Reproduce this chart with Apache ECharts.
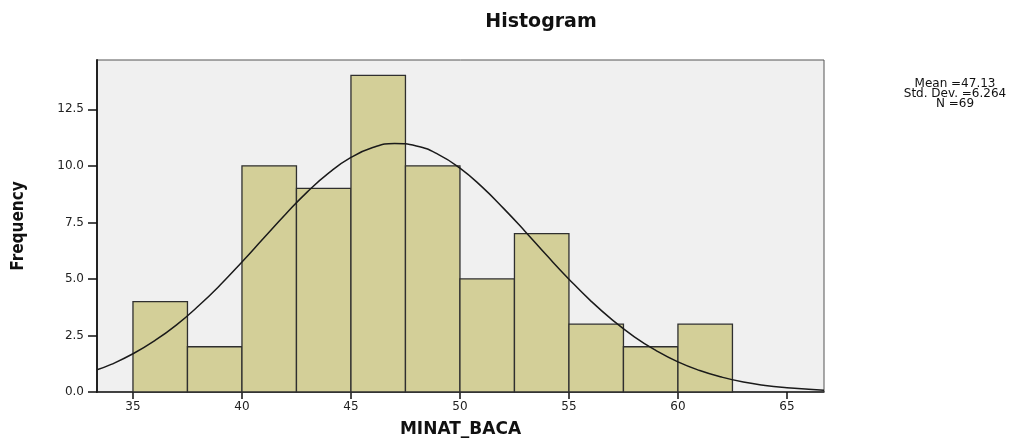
<!DOCTYPE html>
<html>
<head>
<meta charset="utf-8">
<title>Histogram</title>
<script src="https://cdn.jsdelivr.net/npm/echarts@6/dist/echarts.min.js"></script>
<style>
    html, body { margin: 0; padding: 0; background: #fff; }
    #histChart { width: 1031px; height: 443px; }
</style>
</head>
<body>
<div id="histChart"></div>
<script>
// bins of MINAT_BACA (edges) and how many cases fall in each
var binEdges = [35, 37.5, 40, 42.5, 45, 47.5, 50, 52.5, 55, 57.5, 60, 62.5];
var binCounts = [4, 2, 10, 9, 14, 10, 5, 7, 3, 2, 3];

// fitted normal curve
var curveX = [33.35, 34, 35, 36, 37, 38, 39, 40, 41, 42, 43, 44, 45, 46, 47, 48, 49, 50,
    51, 52, 53, 54, 55, 56, 57, 58, 59, 60, 61, 62, 63, 64, 65, 66, 66.7];
var curveY = [0.98, 1.22, 1.69, 2.27, 2.97, 3.80, 4.73, 5.75, 6.81, 7.86, 8.85, 9.70, 10.37, 10.81, 10.99, 10.88, 10.51, 9.90,
    9.08, 8.12, 7.09, 6.02, 4.99, 4.03, 3.18, 2.44, 1.83, 1.33, 0.95, 0.66, 0.44, 0.29, 0.19, 0.12, 0.08];

var xTicks = [35, 40, 45, 50, 55, 60, 65];
var yTicks = [0, 2.5, 5, 7.5, 10, 12.5];

var statLines = ['Mean =47.13', 'Std. Dev. =6.264', 'N =69'];

var histChart = (function (w) {

    var chart = echarts.init(document.getElementById('histChart'));
    var txt = '#222';

    function $each(arr, fn) {
        for (var i = 0; i < arr.length; i++) fn(i, arr[i]);
    }

    var bars = [];
    $each(binCounts, function (i, v) {
        bars.push([binEdges[i], binEdges[i + 1], v]);
    });

    var curve = [];
    $each(curveX, function (i, v) {
        curve.push([v, curveY[i]]);
    });

    // stats box, one text per line so each can be centred
    var stats = [];
    $each(statLines, function (i, v) {
        stats.push({
            type: 'text',
            x: 955,
            y: 78 + i * 10,
            style: {
                text: v,
                fontFamily: 'DejaVu Sans',
                fontSize: 12,
                align: 'center',
                fill: '#111'
            }
        });
    });

    var option = {
        animation: false,
        backgroundColor: '#fff',
        title: {
            text: 'Histogram',
            left: 536,
            top: 8,
            textAlign: 'center',
            textStyle: {
                fontFamily: 'DejaVu Sans',
                fontWeight: 'bold',
                fontSize: 19,
                color: '#111'
            }
        },
        grid: {
            left: 97,
            right: 207,
            top: 60,
            bottom: 46,
            show: true,
            backgroundColor: '#F0F0F0',
            borderColor: '#555',
            borderWidth: 1
        },
        xAxis: {
            type: 'value',
            min: 33.35,
            max: 66.7,
            name: 'MINAT_BACA',
            nameLocation: 'middle',
            nameGap: 29,
            nameTextStyle: {
                fontFamily: 'DejaVu Sans',
                fontWeight: 'bold',
                fontSize: 17,
                color: '#111'
            },
            axisLine: { show: true, onZero: false, lineStyle: { color: '#222', width: 1.5 } },
            axisTick: { show: true, length: 7, customValues: xTicks, lineStyle: { color: '#111', width: 1.5 } },
            axisLabel: {
                customValues: xTicks,
                margin: 9,
                fontFamily: 'DejaVu Sans',
                fontSize: 12,
                color: txt
            },
            splitLine: { show: false }
        },
        yAxis: {
            type: 'value',
            min: 0,
            max: 14.68,
            name: 'Frequency',
            nameLocation: 'middle',
            nameGap: 70,
            nameTextStyle: {
                fontFamily: '"Liberation Sans Narrow", "DejaVu Sans Condensed", "Liberation Sans"',
                fontWeight: 'bold',
                fontSize: 17,
                color: '#111'
            },
            axisLine: { show: true, lineStyle: { color: '#222', width: 2 } },
            axisTick: { show: true, length: 9, customValues: yTicks, lineStyle: { color: '#111', width: 1.5 } },
            axisLabel: {
                customValues: yTicks,
                margin: 13,
                fontFamily: 'DejaVu Sans',
                fontSize: 12,
                color: txt,
                formatter: function (v) { return v.toFixed(1); }
            },
            splitLine: { show: false }
        },
        graphic: stats,
        series: [{
            name: 'Frequency',
            type: 'custom',
            encode: { x: [0, 1], y: 2 },
            data: bars,
            renderItem: function (params, api) {
                var topLeft = api.coord([api.value(0), api.value(2)]);
                var bottomRight = api.coord([api.value(1), 0]);
                return {
                    type: 'rect',
                    shape: {
                        x: topLeft[0],
                        y: topLeft[1],
                        width: bottomRight[0] - topLeft[0],
                        height: bottomRight[1] - topLeft[1]
                    },
                    style: {
                        fill: '#D3CF98',
                        stroke: '#2f2f2f',
                        lineWidth: 1.3
                    }
                };
            },
            z: 2
        }, {
            name: 'Normal',
            type: 'line',
            data: curve,
            smooth: true,
            showSymbol: false,
            lineStyle: { color: '#1a1a1a', width: 1.5 },
            z: 3
        }]
    };

    chart.setOption(option);

    return {
        chart: function () { return chart; }
    };

}(window));
</script>
</body>
</html>
